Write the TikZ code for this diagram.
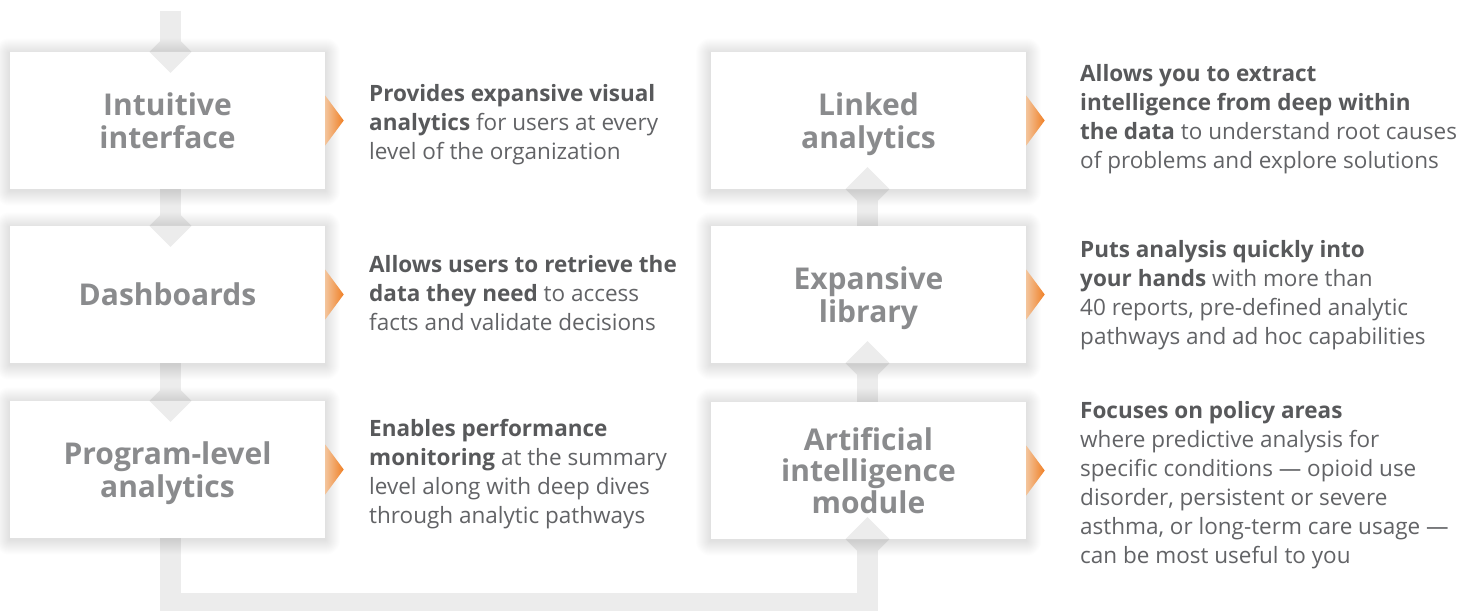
\documentclass[tikz,border=0pt]{standalone}
\usepackage{fontspec}
\usepackage{amsmath}
\setmainfont{Open Sans}
\usetikzlibrary{backgrounds}
\definecolor{shaft}{RGB}{236,236,236}
\definecolor{ttl}{RGB}{138,139,141}
\definecolor{txtb}{RGB}{88,89,91}
\definecolor{txtr}{RGB}{98,99,102}
\definecolor{orgL}{RGB}{243,196,155}
\definecolor{orgR}{RGB}{240,128,38}
\newcommand{\hb}[1]{{\bfseries\color{txtb}#1}}
\begin{document}
\begin{tikzpicture}[x=1pt,y=-1pt,
  box/.style={fill=white, minimum width=315pt, minimum height=137pt, inner sep=0pt,
    align=center, text=ttl, font=\fontsize{30}{33}\selectfont\bfseries},
  desc/.style={anchor=north west, inner sep=0pt, align=left, text=txtr,
    font=\fontsize{22.5}{29}\selectfont},
  shaftline/.style={draw=shaft, line width=21pt},
  chev/.style={fill=shaft},
  softshadow/.style={fill=black, opacity=0.0065},
  pointer/.style={left color=orgL, right color=orgR, draw=none}]
\useasboundingbox (0,0) rectangle (1463,610);

% boxes
\node[box] (b1) at (167.5,120.5) {Intuitive\\interface};
\node[box] (b2) at (167.5,294.5) {Dashboards};
\node[box] (b3) at (167.5,469.5) {Program-level\\\smash[b]{analytics}};
\node[box] (r1) at (868.5,120.5) {Linked\\\smash[b]{analytics}};
\node[box] (r2) at (868.5,294.5) {Expansive\\\smash[b]{library}};
\node[box, font=\fontsize{30}{31.5}\selectfont\bfseries] (r3) at (868.5,470.5) {Artificial\\intelligence\\module};

% connector shaft, full diamonds and soft shadows (behind boxes)
\coordinate (top) at (170.5,11);
\coordinate (bl) at (170.5,603.5);
\coordinate (br) at (867.5,603.5);
\begin{scope}[on background layer]
\fill[white] (0,0) rectangle (1463,610);
\draw[shaftline] (top) -- (bl) -- (br) -- (br |- r1.south);
\foreach \n in {b1,b2,b3}{
  \fill[chev] (top |- \n.north) ++(0,-21) -- ++(21,21) -- ++(-21,21) -- ++(-21,-21) -- cycle;
}
\foreach \n in {r1,r2,r3}{
  \fill[chev] (br |- \n.south) ++(0,-22) -- ++(22,22) -- ++(-22,22) -- ++(-22,-22) -- cycle;
}
\foreach \n in {b1,b2,b3,r1,r2,r3}{
  \foreach \i in {1,...,15}{
    \fill[softshadow, rounded corners=\i pt]
      ([shift={(-\i,-\i+1.5)}]\n.north west) rectangle ([shift={(\i,\i+1.5)}]\n.south east);
  }
}
\end{scope}

% chevron halves inside the boxes
\foreach \n in {b1,b2,b3}{
  \fill[chev] (top |- \n.north) ++(-21,0) -- ++(42,0) -- ++(-21,21) -- cycle;
}
\foreach \n in {r1,r2,r3}{
  \fill[chev] (br |- \n.south) ++(-22,0) -- ++(44,0) -- ++(-22,-22) -- cycle;
}

% orange pointers
\foreach \n in {b1,b2,b3,r1,r2,r3}{
  \shade[pointer] (\n.east) ++(0,-25) -- ++(18.5,25) -- ++(-18.5,25) -- cycle;
}

% descriptions
\node[desc] (d1) at (369,81) {\strut\hb{Provides expansive visual}\\\hb{analytics} for users at every\\level of the organization};
\node[desc] (d2) at (369,252) {\strut\hb{Allows users to retrieve the}\\\hb{data they need} to access\\facts and validate decisions};
\node[desc] (d3) at (369,416) {\strut\hb{Enables performance}\\\hb{monitoring} at the summary\\level along with deep dives\\through analytic pathways};
\node[desc] (d4) at (1080,61) {\strut\hb{Allows you to extract}\\\hb{intelligence from deep within}\\\hb{the data} to understand root causes\\of problems and explore solutions};
\node[desc] (d5) at (1080,237) {\strut\hb{Puts analysis quickly into}\\\hb{your hands} with more than\\40 reports, pre-defined analytic\\pathways and ad hoc capabilities};
\node[desc] (d6) at (1080,398) {\strut\hb{Focuses on policy areas}\\where predictive analysis for\\specific conditions — opioid use\\disorder, persistent or severe\\asthma, or long-term care usage —\\can be most useful to you};
\end{tikzpicture}
\end{document}
